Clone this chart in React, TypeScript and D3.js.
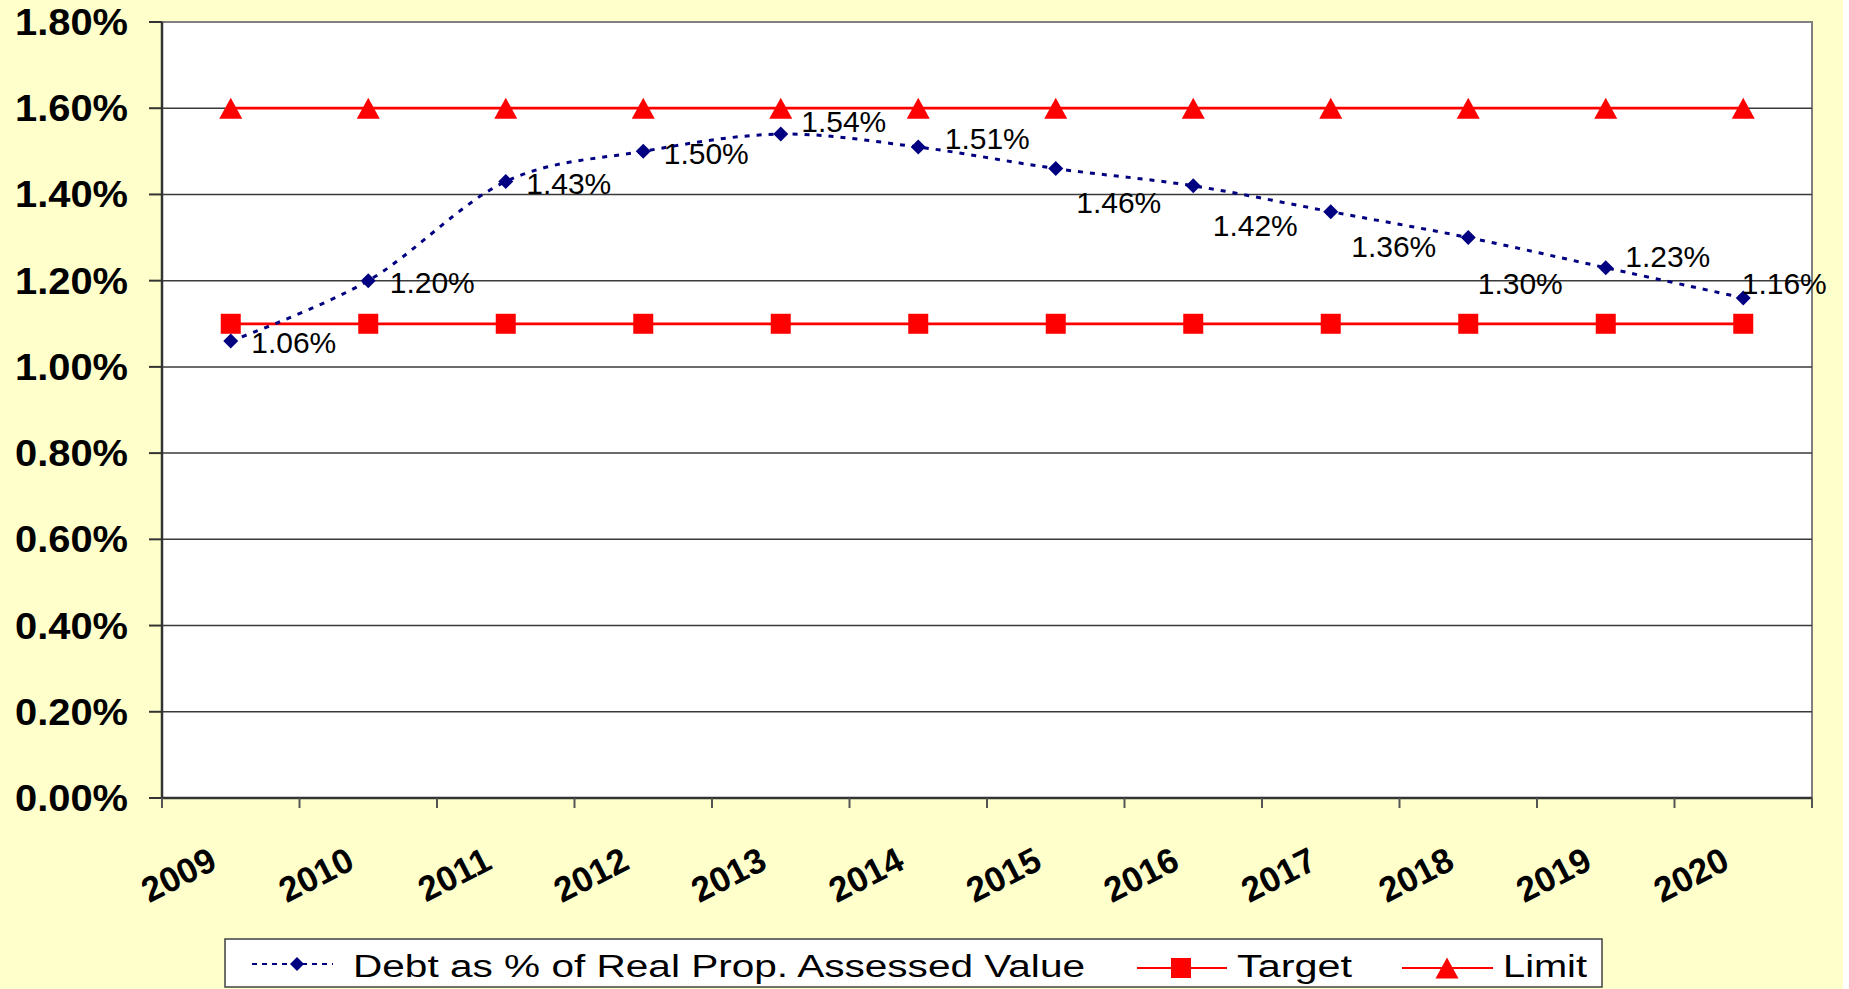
import * as d3 from "d3";

const YEARS = ["2009", "2010", "2011", "2012", "2013", "2014", "2015", "2016", "2017", "2018", "2019", "2020"];
const DEBT = [1.06, 1.2, 1.43, 1.5, 1.54, 1.51, 1.46, 1.42, 1.36, 1.3, 1.23, 1.16];
const TARGET = [1.1, 1.1, 1.1, 1.1, 1.1, 1.1, 1.1, 1.1, 1.1, 1.1, 1.1, 1.1];
const LIMIT = [1.6, 1.6, 1.6, 1.6, 1.6, 1.6, 1.6, 1.6, 1.6, 1.6, 1.6, 1.6];
const Y_TICKS = [0, 0.2, 0.4, 0.6, 0.8, 1.0, 1.2, 1.4, 1.6, 1.8];

// label placement relative to each point (layout, not data)
const LABEL_OFFSETS: [number, number][] = [
  [63, 1], [64, 1], [63, 1], [63, 1.5], [63, -13.5], [69, -9],
  [63, 33.5], [62, 39], [63, 34.5], [52, 45], [62, -12], [41, -15],
];

const W = 1849;
const H = 989;
const PLOT = { left: 162, right: 1812, top: 22, bottom: 798 };
const BG = "#FFFFCC";
const NAVY = "#000080";
const RED = "#FF0000";
const FONT = "'Liberation Sans', Arial, sans-serif";

const diamond = (r: number) => `M0,${-r}L${r},0L0,${r}L${-r},0Z`;
const triangle = (w: number, h: number) => `M0,${-h / 2}L${w / 2},${h / 2}L${-w / 2},${h / 2}Z`;

export default function App() {
  const x = d3.scaleBand<string>().domain(YEARS).range([PLOT.left, PLOT.right]).padding(0);
  const y = d3.scaleLinear().domain([0, 1.8]).range([PLOT.bottom, PLOT.top]);
  const cx = (yr: string) => (x(yr) as number) + x.bandwidth() / 2;

  const debtLine = d3
    .line<number>()
    .x((_, i) => cx(YEARS[i]))
    .y((d) => y(d))
    .curve(d3.curveCardinal.tension(0));
  const flatLine = d3
    .line<number>()
    .x((_, i) => cx(YEARS[i]))
    .y((d) => y(d));

  const fmt = (v: number) => `${v.toFixed(2)}%`;
  const boundaries = d3.range(YEARS.length + 1).map((i) => PLOT.left + i * x.step());

  return (
    <svg
      width={W}
      height={H}
      style={{ position: "absolute", left: 0, top: 0, display: "block" }}
      fontFamily={FONT}
    >
      <rect x={0} y={0} width={W} height={H} fill="#ffffff" />
      <rect x={0} y={0} width={1843} height={H} fill={BG} />
      <rect
        x={PLOT.left}
        y={PLOT.top}
        width={PLOT.right - PLOT.left}
        height={PLOT.bottom - PLOT.top}
        fill="#ffffff"
        stroke="#808080"
        strokeWidth={2}
      />

      {/* gridlines + y axis */}
      {Y_TICKS.map((t) => (
        <g key={t}>
          {t > 0 && t < 1.8 && (
            <line x1={PLOT.left} x2={PLOT.right} y1={y(t)} y2={y(t)} stroke="#3a3a3a" strokeWidth={1.5} />
          )}
          <line x1={149} x2={PLOT.left} y1={y(t)} y2={y(t)} stroke="#333" strokeWidth={2} />
          <text
            x={128}
            y={y(t) + 13}
            textAnchor="end"
            fontSize={36}
            fontWeight="bold"
            textLength={113}
            lengthAdjust="spacingAndGlyphs"
            fill="#000"
          >
            {fmt(t)}
          </text>
        </g>
      ))}
      <line x1={PLOT.left} x2={PLOT.left} y1={PLOT.top} y2={PLOT.bottom} stroke="#333" strokeWidth={2.5} />
      <line x1={PLOT.left} x2={PLOT.right} y1={PLOT.bottom} y2={PLOT.bottom} stroke="#333" strokeWidth={2.5} />

      {/* x axis */}
      {boundaries.map((b, i) => (
        <line key={i} x1={b} x2={b} y1={PLOT.bottom} y2={PLOT.bottom + 10} stroke="#555" strokeWidth={2} />
      ))}
      {YEARS.map((yr) => (
        <text
          key={yr}
          transform={`translate(${cx(yr) - 12},868) rotate(-27)`}
          textAnchor="end"
          fontSize={35}
          fontWeight="bold"
          fill="#000"
        >
          {yr}
        </text>
      ))}

      {/* Limit */}
      <path d={flatLine(LIMIT) ?? ""} fill="none" stroke={RED} strokeWidth={2.7} />
      {LIMIT.map((v, i) => (
        <path key={i} d={triangle(23, 21)} transform={`translate(${cx(YEARS[i])},${y(v)})`} fill={RED} />
      ))}

      {/* Target */}
      <path d={flatLine(TARGET) ?? ""} fill="none" stroke={RED} strokeWidth={2.7} />
      {TARGET.map((v, i) => (
        <rect key={i} x={cx(YEARS[i]) - 10} y={y(v) - 10} width={20} height={20} fill={RED} />
      ))}

      {/* Debt */}
      <path d={debtLine(DEBT) ?? ""} fill="none" stroke={NAVY} strokeWidth={3} strokeDasharray="5 7" />
      {DEBT.map((v, i) => (
        <path key={i} d={diamond(7.5)} transform={`translate(${cx(YEARS[i])},${y(v)})`} fill={NAVY} />
      ))}
      {DEBT.map((v, i) => (
        <text
          key={i}
          x={cx(YEARS[i]) + LABEL_OFFSETS[i][0]}
          y={y(v) + LABEL_OFFSETS[i][1] + 11}
          textAnchor="middle"
          fontSize={30}
          fill="#000"
        >
          {fmt(v)}
        </text>
      ))}

      {/* legend */}
      <rect x={225} y={939} width={1377} height={48} fill="#ffffff" stroke="#404040" strokeWidth={1.5} />
      <line x1={252} x2={333} y1={964} y2={964} stroke={NAVY} strokeWidth={2} strokeDasharray="5 5" />
      <path d={diamond(7)} transform="translate(297,964)" fill={NAVY} />
      <text x={353} y={977} fontSize={31} textLength={732} lengthAdjust="spacingAndGlyphs" fill="#000">
        Debt as % of Real Prop. Assessed Value
      </text>
      <line x1={1137} x2={1227} y1={968} y2={968} stroke={RED} strokeWidth={2} />
      <rect x={1171} y={958} width={20} height={20} fill={RED} />
      <text x={1237} y={977} fontSize={31} textLength={115} lengthAdjust="spacingAndGlyphs" fill="#000">
        Target
      </text>
      <line x1={1402} x2={1493} y1={968} y2={968} stroke={RED} strokeWidth={2} />
      <path d={triangle(23, 21)} transform="translate(1447,968)" fill={RED} />
      <text x={1503} y={977} fontSize={31} textLength={84} lengthAdjust="spacingAndGlyphs" fill="#000">
        Limit
      </text>
    </svg>
  );
}
